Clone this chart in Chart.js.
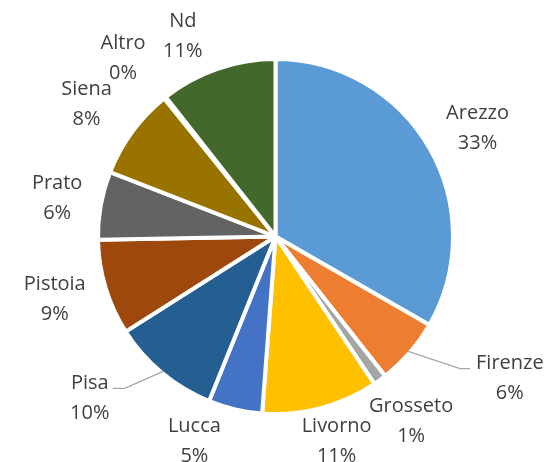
<!DOCTYPE html>
<html>
<head>
<meta charset="utf-8">
<script src="https://cdn.jsdelivr.net/npm/chart.js@4"></script>
<style>
  html, body { margin: 0; padding: 0; background: #fff; }
  canvas { display: block; }
</style>
</head>
<body>
<canvas id="chart" width="546" height="462"></canvas>
<script>
const labels = ["Arezzo", "Firenze", "Grosseto", "Livorno", "Lucca", "Pisa", "Pistoia", "Prato", "Siena", "Altro", "Nd"];
const values = [33.3, 6.1, 1.2, 10.6, 4.9, 9.9, 8.7, 6.2, 8.3, 0.2, 10.6];
const colors = ["#5B9BD5", "#ED7D31", "#A5A5A5", "#FFC000", "#4472C4", "#255E91", "#9E480E", "#636363", "#997300", "#264478", "#43682B"];

// label placement: angle shift (deg) from slice middle, distance from centre (px), leader line
const labelPlace = [
  { shift: 1.5, dist: 230 },
  { shift: -10, dist: 273, leader: true },
  { shift: -0.5, dist: 228 },
  { shift: -2, dist: 212 },
  { shift: 8.7, dist: 218 },
  { shift: 9.5, dist: 245, leader: true },
  { shift: 1.3, dist: 229 },
  { shift: 0.3, dist: 222 },
  { shift: -0.7, dist: 232 },
  { shift: -1.7, dist: 236 },
  { shift: -5.6, dist: 222 }
];

const FONT = "20px 'Open Sans'";
const LINE_H = 30;
const TEXT_DY = 2;

const pieLabels = {
  id: "pieLabels",
  afterDatasetsDraw(chart) {
    const ctx = chart.ctx;
    const meta = chart.getDatasetMeta(0);
    const total = values.reduce((a, b) => a + b, 0);
    ctx.save();
    ctx.font = FONT;
    ctx.fillStyle = "#404040";
    ctx.textAlign = "center";
    ctx.textBaseline = "middle";
    meta.data.forEach((arc, i) => {
      const p = arc.getProps(["x", "y", "startAngle", "endAngle", "outerRadius"], true);
      const mid = (p.startAngle + p.endAngle) / 2;
      const a = mid + labelPlace[i].shift * Math.PI / 180;
      const lx = p.x + Math.cos(a) * labelPlace[i].dist;
      const ly = p.y + Math.sin(a) * labelPlace[i].dist;
      const pct = Math.round(values[i] / total * 100) + "%";
      const y1 = ly - LINE_H / 2;
      ctx.fillText(labels[i], lx, y1 + TEXT_DY);
      ctx.fillText(pct, lx, ly + LINE_H / 2 + TEXT_DY);

      if (labelPlace[i].leader) {
        const w = ctx.measureText(labels[i]).width;
        const sx = p.x + Math.cos(mid) * (p.outerRadius - 2);
        const sy = p.y + Math.sin(mid) * (p.outerRadius - 2);
        const right = Math.cos(mid) > 0;
        const endX = right ? lx - w / 2 - 6 : lx + w / 2 + 4;
        const elbowX = right ? endX - 10 : endX + 12;
        const lineY = y1 + 7;
        ctx.beginPath();
        ctx.strokeStyle = "#A6A6A6";
        ctx.lineWidth = 1.3;
        ctx.moveTo(sx, sy);
        ctx.lineTo(elbowX, lineY);
        ctx.lineTo(endX, lineY);
        ctx.stroke();
      }
    });
    ctx.restore();
  }
};

new Chart(document.getElementById("chart"), {
  type: "pie",
  data: {
    labels: labels,
    datasets: [{
      data: values,
      backgroundColor: colors,
      borderColor: "#ffffff",
      borderWidth: 4
    }]
  },
  options: {
    responsive: false,
    animation: false,
    layout: { padding: { top: 57, bottom: 46, left: 96, right: 91 } },
    plugins: {
      legend: { display: false },
      tooltip: { enabled: false }
    }
  },
  plugins: [pieLabels]
});
</script>
</body>
</html>
